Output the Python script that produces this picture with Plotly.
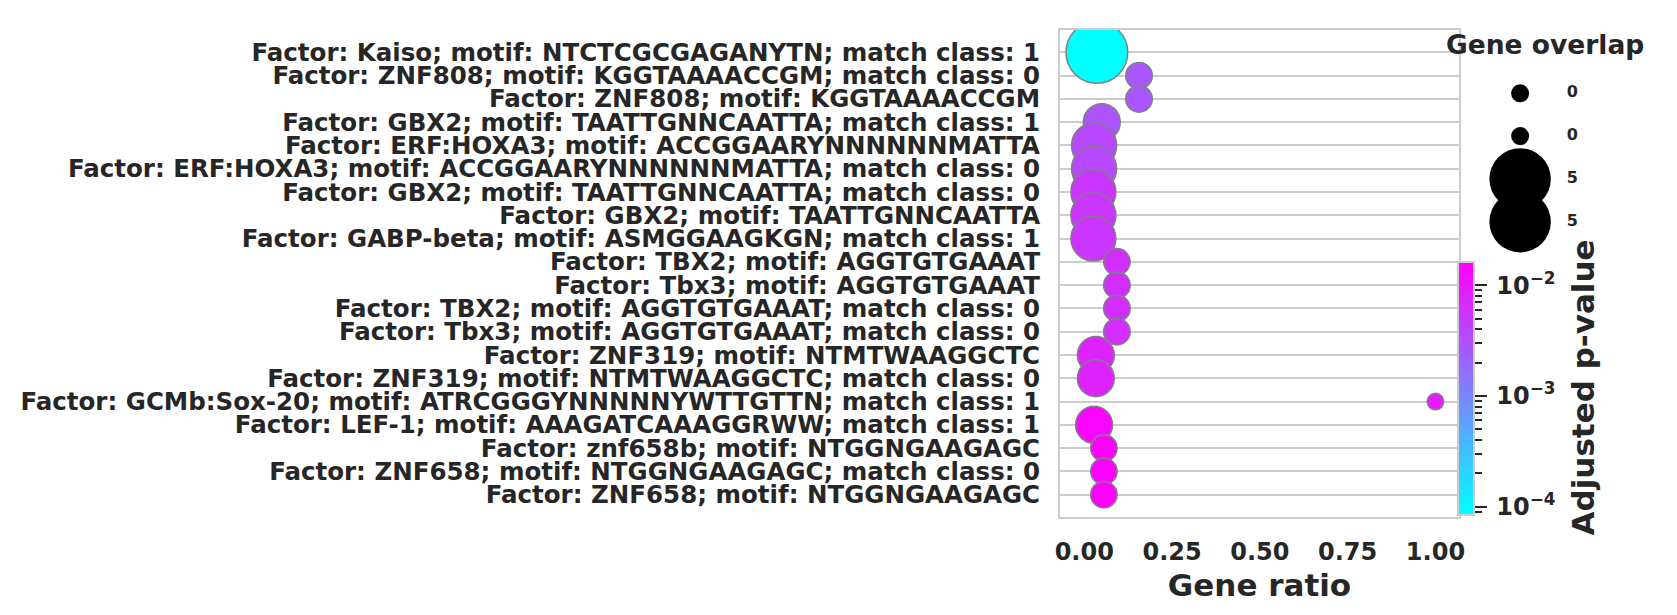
import numpy as np
import plotly.graph_objects as go

# ---------------- data ----------------
terms = [
    "Factor: Kaiso; motif: NTCTCGCGAGANYTN; match class: 1",
    "Factor: ZNF808; motif: KGGTAAAACCGM; match class: 0",
    "Factor: ZNF808; motif: KGGTAAAACCGM",
    "Factor: GBX2; motif: TAATTGNNCAATTA; match class: 1",
    "Factor: ERF:HOXA3; motif: ACCGGAARYNNNNNNMATTA",
    "Factor: ERF:HOXA3; motif: ACCGGAARYNNNNNNMATTA; match class: 0",
    "Factor: GBX2; motif: TAATTGNNCAATTA; match class: 0",
    "Factor: GBX2; motif: TAATTGNNCAATTA",
    "Factor: GABP-beta; motif: ASMGGAAGKGN; match class: 1",
    "Factor: TBX2; motif: AGGTGTGAAAT",
    "Factor: Tbx3; motif: AGGTGTGAAAT",
    "Factor: TBX2; motif: AGGTGTGAAAT; match class: 0",
    "Factor: Tbx3; motif: AGGTGTGAAAT; match class: 0",
    "Factor: ZNF319; motif: NTMTWAAGGCTC",
    "Factor: ZNF319; motif: NTMTWAAGGCTC; match class: 0",
    "Factor: GCMb:Sox-20; motif: ATRCGGGYNNNNNYWTTGTTN; match class: 1",
    "Factor: LEF-1; motif: AAAGATCAAAGGRWW; match class: 1",
    "Factor: znf658b; motif: NTGGNGAAGAGC",
    "Factor: ZNF658; motif: NTGGNGAAGAGC; match class: 0",
    "Factor: ZNF658; motif: NTGGNGAAGAGC",
]
gene_ratio = [0.036, 0.156, 0.156, 0.050, 0.028, 0.028, 0.026, 0.026, 0.026,
              0.093, 0.093, 0.093, 0.093, 0.033, 0.033, 1.000, 0.028,
              0.056, 0.056, 0.056]
gene_overlap = [17, 3, 3, 6, 9, 9, 9, 9, 9, 3, 3, 3, 3, 6, 6, 1, 6, 3, 3, 3]
adj_pvalue = [8.4e-5, 2.7e-3, 2.7e-3, 2.86e-3, 3.7e-3, 3.7e-3, 5.4e-3, 5.4e-3,
              5.4e-3, 6.6e-3, 6.6e-3, 6.6e-3, 6.6e-3, 8.2e-3, 8.2e-3, 9.6e-3,
              1.46e-2, 1.62e-2, 1.62e-2, 1.62e-2]

legend_overlap = [1, 1, 16, 16]
legend_labels = ["0", "0", "5", "5"]

x_ticks = [0.0, 0.25, 0.5, 0.75, 1.0]
x_ticktext = ["0.00", "0.25", "0.50", "0.75", "1.00"]
cb_major = [1e-4, 1e-3, 1e-2]
cb_major_text = ["10<sup>\u22124</sup>", "10<sup>\u22123</sup>", "10<sup>\u22122</sup>"]
cb_minor = [9e-5] + [k * 1e-4 for k in range(2, 10)] + [k * 1e-3 for k in range(2, 10)]

# ---------------- style ----------------
FONT = "DejaVu Sans"
TXT = "#262626"
GRID = "#cccccc"
cool = [[0.0, "#00ffff"], [1.0, "#ff00ff"]]


def diam(c):
    c = np.asarray(c, dtype=float)
    return np.sqrt(324 + 230 * (c - 1)) - 1.5


logp = np.log10(adj_pvalue)
cmin, cmax = float(logp.min()), float(logp.max())

# page offset (browser body margin) compensated
OFF = 8
W, H = 1677 - OFF, 615 - OFF
ML, MR, MT, MB = 1060 - OFF, 0, 30 - OFF, 98
PW = W - ML - MR
PH = H - MT - MB
main_right = 1459 - OFF


def px_x(px):  # page px -> paper fraction
    return (px - OFF - ML) / PW


def px_y(py):
    return (H - MB - (py - OFF)) / PH


cb_common = dict(
    x=px_x(1458.3), xanchor="left", xpad=0,
    y=px_y(515), yanchor="bottom", ypad=0,
    len=253, lenmode="pixels", thickness=16,
    outlinewidth=2, outlinecolor=GRID,
    ticks="outside", tickwidth=2, tickmode="array",
)


def colour_trace(opacity, line, colorbar):
    return go.Scatter(
        x=gene_ratio, y=terms, mode="markers", cliponaxis=True,
        hoverinfo="skip" if opacity == 0 else None,
        marker=dict(size=diam(gene_overlap), color=logp, colorscale=cool,
                    cmin=cmin, cmax=cmax, opacity=opacity, line=line,
                    showscale=True, colorbar=colorbar),
        showlegend=False,
    )


fig = go.Figure()

# invisible carriers: minor ticks, major ticks
fig.add_trace(colour_trace(0, dict(width=0), dict(
    **cb_common, tickvals=np.log10(cb_minor), ticklen=7, tickcolor=TXT,
    showticklabels=False)))
fig.add_trace(colour_trace(0, dict(width=0), dict(
    **cb_common, tickvals=np.log10(cb_major), ticklen=12, tickcolor=TXT,
    showticklabels=False)))

# visible points, carrying the labelled colour bar
fig.add_trace(colour_trace(1, dict(color="#808080", width=1.5), dict(
    **cb_common, tickvals=np.log10(cb_major), ticktext=cb_major_text,
    ticklen=17, tickcolor="rgba(0,0,0,0)",
    tickfont=dict(family=FONT, size=24, color=TXT, weight="bold"))))

# size legend
leg_idx = list(range(len(legend_overlap)))
fig.add_trace(go.Scatter(
    x=[0.152] * len(leg_idx), y=leg_idx, xaxis="x2", yaxis="y2",
    mode="markers", cliponaxis=False, hoverinfo="skip",
    marker=dict(size=diam(legend_overlap) + 1.5, color="black", opacity=1,
                line=dict(width=0)),
    showlegend=False,
))
fig.add_trace(go.Scatter(
    x=[0.404] * len(leg_idx), y=leg_idx, xaxis="x2", yaxis="y2",
    mode="text", text=legend_labels, textposition="middle right",
    cliponaxis=False, hoverinfo="skip",
    textfont=dict(family=FONT, size=16, color=TXT, weight="bold"),
    showlegend=False,
))

leg_x0 = px_x(1492)
fig.update_layout(
    width=W, height=H,
    margin=dict(l=ML, r=MR, t=MT, b=MB, pad=0, autoexpand=False),
    paper_bgcolor="white", plot_bgcolor="white",
    font=dict(family=FONT, color=TXT),
    xaxis=dict(
        domain=[0, (main_right - ML) / PW], range=[-0.069, 1.067],
        tickmode="array", tickvals=x_ticks, ticktext=x_ticktext,
        tickfont=dict(family=FONT, size=24, color=TXT, weight="bold"),
        ticks="", showgrid=False, zeroline=False,
        showline=True, mirror=True, linecolor=GRID, linewidth=2,
        ticklabelstandoff=12, automargin=False,
        title=dict(text="Gene ratio", standoff=10,
                   font=dict(family=FONT, size=31, color=TXT, weight="bold")),
    ),
    yaxis=dict(
        type="category", categoryorder="array", categoryarray=terms,
        tickmode="array", tickvals=terms, ticktext=terms,
        range=[len(terms) - 1 + 0.96, -0.96],
        tickfont=dict(family=FONT, size=24.5, color=TXT, weight="bold"),
        ticks="", showgrid=True, gridcolor=GRID, gridwidth=1.6,
        zeroline=False, showline=True, mirror=True, linecolor=GRID, linewidth=2,
        ticklabelstandoff=13, automargin=False,
    ),
    xaxis2=dict(domain=[leg_x0, 1.0], range=[0, 1], visible=False, anchor="y2"),
    yaxis2=dict(domain=[0, 1], range=[9.9, -1.479], visible=False, anchor="x2"),
    annotations=[
        dict(text="Gene overlap", xref="paper", yref="paper",
             x=px_x(1544.7), y=px_y(45), xanchor="center", yanchor="middle",
             showarrow=False,
             font=dict(family=FONT, size=26.5, color=TXT, weight="bold")),
        dict(text="Adjusted p-value", xref="paper", yref="paper",
             x=px_x(1582.5), y=px_y(388), xanchor="center", yanchor="middle",
             textangle=-90, showarrow=False,
             font=dict(family=FONT, size=31, color=TXT, weight="bold")),
    ],
)

fig.write_html("out.html")
